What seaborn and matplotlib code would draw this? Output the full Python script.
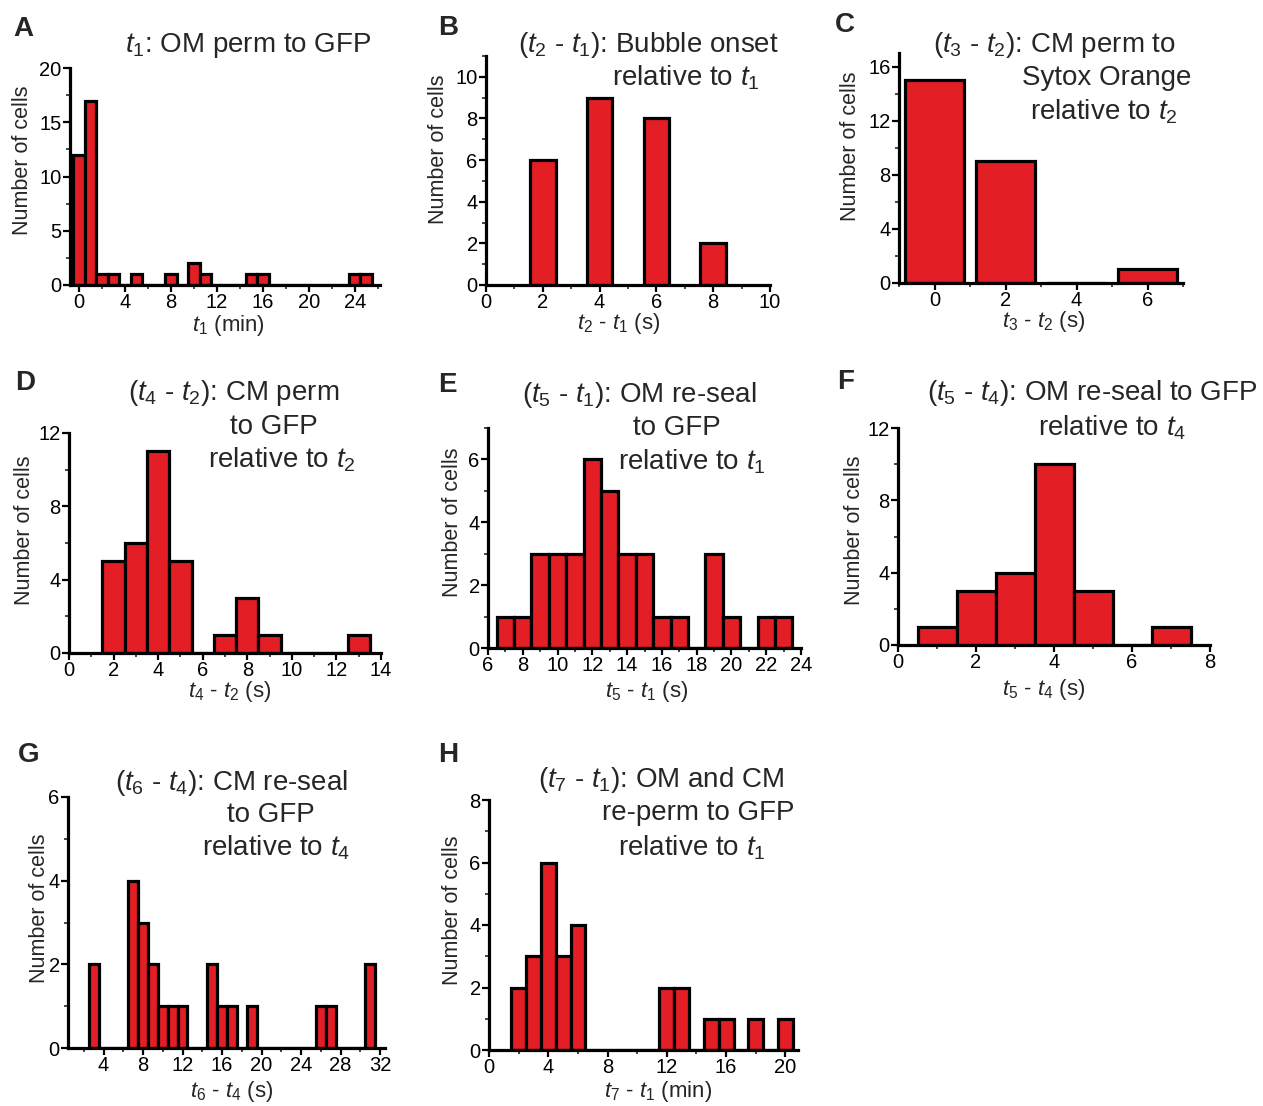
import matplotlib
matplotlib.use("Agg")
import matplotlib.pyplot as plt
from matplotlib.ticker import MultipleLocator
import seaborn as sns
import numpy as np

sns.set_style("ticks")
plt.rcParams['font.family'] = ['Liberation Sans', 'DejaVu Sans']
plt.rcParams['mathtext.fontset'] = 'custom'
plt.rcParams['mathtext.rm'] = 'Liberation Sans'
plt.rcParams['mathtext.it'] = 'Liberation Sans:italic'

W, H = 1263, 1106
RED = "#E31E24"

# ---- data (bin centres and counts) ----
A_x = [0, 1, 2, 3, 5, 8, 10, 11, 15, 16, 24, 25]
A_n = [12, 17, 1, 1, 1, 1, 2, 1, 1, 1, 1, 1]
B_x = [2, 4, 6, 8]
B_n = [6, 9, 8, 2]
C_x = [0, 2, 4, 6]
C_n = [15, 9, 0, 1]
D_x = [2, 3, 4, 5, 7, 8, 9, 13]
D_n = [5, 6, 11, 5, 1, 3, 1, 1]
E_x = [7, 8, 9, 10, 11, 12, 13, 14, 15, 16, 17, 18, 19, 20, 21, 22, 23]
E_n = [1, 1, 3, 3, 3, 6, 5, 3, 3, 1, 1, 0, 3, 1, 0, 1, 1]
F_x = [1, 2, 3, 4, 5, 6, 7]
F_n = [1, 3, 4, 10, 3, 0, 1]
G_x = [3, 7, 8, 9, 10, 11, 12, 15, 16, 17, 19, 26, 27, 31]
G_n = [2, 4, 3, 2, 1, 1, 1, 2, 1, 1, 1, 1, 1, 2]
H_x = [2, 3, 4, 5, 6, 12, 13, 15, 16, 18, 20]
H_n = [2, 3, 6, 3, 4, 2, 2, 1, 1, 1, 1]

A_xticks = [0, 4, 8, 12, 16, 20, 24]
B_xticks = [0, 2, 4, 6, 8, 10]
C_xticks = [0, 2, 4, 6]
D_xticks = [0, 2, 4, 6, 8, 10, 12, 14]
E_xticks = [6, 8, 10, 12, 14, 16, 18, 20, 22, 24]
F_xticks = [0, 2, 4, 6, 8]
G_xticks = [4, 8, 12, 16, 20, 24, 28, 32]
H_xticks = [0, 4, 8, 12, 16, 20]

panels = [
    dict(letter="A", x=A_x, n=A_n, bw=1, br=(-0.5, 25.5), shrink=1.0,
         rect=(70, 68, 380, 285), xlim=(-0.8, 26.2), ylim=(0, 20),
         xticks=A_xticks, xminor=2, ymaj=5, ymin=2.5,
         xlabel=r"$t_1$ (min)", xl=(228, 326), yl=(22, 160), lp=(13, 29),
         title=[(r"$t_1$: OM perm to GFP", 125, 45)]),
    dict(letter="B", x=B_x, n=B_n, bw=2, br=(1, 9), shrink=0.45,
         rect=(486, 56, 770, 285), xlim=(0, 10), ylim=(0, 11),
         xticks=B_xticks, xminor=1, ymaj=2, ymin=1,
         xlabel=r"$t_2$ - $t_1$ (s)", xl=(619, 324), yl=(438, 149), lp=(438, 28),
         title=[(r"($t_2$ - $t_1$): Bubble onset", 518, 45),
                (r"relative to $t_1$", 612, 78)]),
    dict(letter="C", x=C_x, n=C_n, bw=2, br=(-1, 7), shrink=0.83,
         rect=(899, 53, 1183, 283), xlim=(-1, 7), ylim=(0, 17),
         xticks=C_xticks, xminor=1, ymaj=4, ymin=2,
         xlabel=r"$t_3$ - $t_2$ (s)", xl=(1044, 322), yl=(850, 146), lp=(835, 25),
         title=[(r"($t_3$ - $t_2$): CM perm to", 933, 45),
                ("Sytox Orange", 1022, 78),
                (r"relative to $t_2$", 1030, 112)]),
    dict(letter="D", x=D_x, n=D_n, bw=1, br=(1.5, 13.5), shrink=1.0,
         rect=(69, 433, 381, 653), xlim=(0, 14), ylim=(0, 12),
         xticks=D_xticks, xminor=1, ymaj=4, ymin=2,
         xlabel=r"$t_4$ - $t_2$ (s)", xl=(230, 692), yl=(25, 530), lp=(15, 383),
         title=[(r"($t_4$ - $t_2$): CM perm", 128, 393),
                ("to GFP", 230, 427),
                (r"relative to $t_2$", 208, 460)]),
    dict(letter="E", x=E_x, n=E_n, bw=1, br=(6.5, 23.5), shrink=1.0,
         rect=(488, 428, 801, 648), xlim=(6, 24), ylim=(0, 7),
         xticks=E_xticks, xminor=1, ymaj=2, ymin=1,
         xlabel=r"$t_5$ - $t_1$ (s)", xl=(647, 692), yl=(453, 522), lp=(438, 385),
         title=[(r"($t_5$ - $t_1$): OM re-seal", 522, 395),
                ("to GFP", 633, 428),
                (r"relative to $t_1$", 618, 462)]),
    dict(letter="F", x=F_x, n=F_n, bw=1, br=(0.5, 7.5), shrink=1.0,
         rect=(898, 428, 1210, 645), xlim=(0, 8), ylim=(0, 12),
         xticks=F_xticks, xminor=1, ymaj=4, ymin=2,
         xlabel=r"$t_5$ - $t_4$ (s)", xl=(1044, 690), yl=(855, 530), lp=(837, 382),
         title=[(r"($t_5$ - $t_4$): OM re-seal to GFP", 927, 393),
                (r"relative to $t_4$", 1038, 428)]),
    dict(letter="G", x=G_x, n=G_n, bw=1, br=(2.5, 31.5), shrink=1.0,
         rect=(68, 797, 385, 1048), xlim=(0.4, 32.5), ylim=(0, 6),
         xticks=G_xticks, xminor=2, ymaj=2, ymin=1,
         xlabel=r"$t_6$ - $t_4$ (s)", xl=(232, 1091), yl=(40, 908), lp=(18, 755),
         title=[(r"($t_6$ - $t_4$): CM re-seal", 115, 783),
                ("to GFP", 227, 815),
                (r"relative to $t_4$", 202, 848)]),
    dict(letter="H", x=H_x, n=H_n, bw=1, br=(1.5, 20.5), shrink=1.0,
         rect=(489, 800, 798, 1050), xlim=(0, 20.85), ylim=(0, 8),
         xticks=H_xticks, xminor=2, ymaj=2, ymin=1,
         xlabel=r"$t_7$ - $t_1$ (min)", xl=(658, 1091), yl=(453, 910), lp=(438, 755),
         title=[(r"($t_7$ - $t_1$): OM and CM", 538, 780),
                ("re-perm to GFP", 602, 813),
                (r"relative to $t_1$", 618, 848)]),
]

fig = plt.figure(figsize=(W / 100, H / 100), dpi=100)

for p in panels:
    l, t, r, b = p["rect"]
    ax = fig.add_axes([l / W, 1 - b / H, (r - l) / W, (b - t) / H])
    sns.histplot(x=p["x"], weights=p["n"], binwidth=p["bw"], binrange=p["br"],
                 shrink=p["shrink"], color=RED, edgecolor="black", linewidth=2.3,
                 alpha=1, ax=ax)
    ax.set_xlim(*p["xlim"])
    ax.set_ylim(*p["ylim"])
    ax.set_xticks(p["xticks"])
    ax.xaxis.set_minor_locator(MultipleLocator(p["xminor"]))
    ax.yaxis.set_major_locator(MultipleLocator(p["ymaj"]))
    ax.yaxis.set_minor_locator(MultipleLocator(p["ymin"]))
    sns.despine(ax=ax)
    for s in ("left", "bottom"):
        ax.spines[s].set_linewidth(2.3)
        ax.spines[s].set_color("black")
    ax.tick_params(which="major", direction="out", length=5, width=1.6,
                   labelsize=14.5, pad=1, colors="black")
    ax.tick_params(which="minor", direction="out", length=3, width=1.2)
    ax.set_xlabel(p["xlabel"], fontsize=16)
    ax.set_ylabel("Number of cells", fontsize=15.5)
    # label positions in axes fraction from pixel coordinates
    xlx = (p["xl"][0] - l) / (r - l)
    xly = (b - p["xl"][1]) / (b - t)
    ax.xaxis.set_label_coords(xlx, xly)
    ylx = (p["yl"][0] - l) / (r - l)
    yly = (b - p["yl"][1]) / (b - t)
    ax.yaxis.set_label_coords(ylx, yly)
    ax.xaxis.label.set_va("center")
    ax.yaxis.label.set_va("center")
    ax.patch.set_alpha(0)
    fig.text(p["lp"][0] / W, 1 - p["lp"][1] / H, p["letter"], fontsize=20,
             fontweight="bold", ha="left", va="center")
    for txt, tx, ty in p["title"]:
        fig.text(tx / W, 1 - ty / H, txt, fontsize=20, ha="left", va="center")

fig.savefig("out.png", dpi=100, facecolor="white")
